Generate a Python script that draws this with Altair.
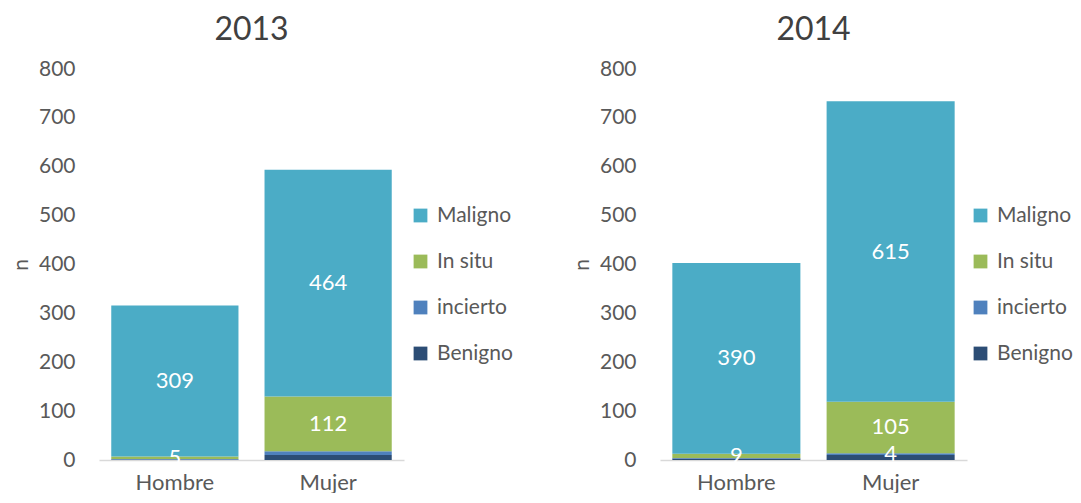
import altair as alt
import pandas as pd

sexos = ["Hombre", "Mujer"]
tipos = ["Benigno", "incierto", "In situ", "Maligno"]
colores = ["#2C4D75", "#4F81BD", "#9BBB59", "#4BACC6"]

# values per tipo (Benigno, incierto, In situ, Maligno) for Hombre / Mujer
v2013_hombre = [1, 1, 5, 309]
v2013_mujer = [10, 8, 112, 464]
v2014_hombre = [3, 1, 9, 390]
v2014_mujer = [10, 4, 105, 615]

# which values carry a data label
lab2013_hombre = [False, False, True, True]
lab2013_mujer = [False, False, True, True]
lab2014_hombre = [False, False, True, True]
lab2014_mujer = [False, True, True, True]

FONT = "Lato"
GRAY = "#595959"
legend_order = ["Maligno", "In situ", "incierto", "Benigno"]
legend_colors = [colores[tipos.index(t)] for t in legend_order]


def build_df(vh, vm, lh, lm):
    rows = []
    for sexo, vals, labs in [("Hombre", vh, lh), ("Mujer", vm, lm)]:
        for i, (t, v, l) in enumerate(zip(tipos, vals, labs)):
            rows.append({"sexo": sexo, "tipo": t, "n": v, "ord": i,
                         "lab": str(v) if l else ""})
    return pd.DataFrame(rows)


def panel(df, year, width, legend_x):
    base = alt.Chart(df).transform_stack(
        stack="n", groupby=["sexo"], as_=["y0", "y1"],
        sort=[alt.SortField("ord", order="ascending")]
    ).transform_calculate(mid="(datum.y0 + datum.y1) / 2")

    x = alt.X("sexo:N", sort=sexos, title=None,
              scale=alt.Scale(paddingInner=0.17, paddingOuter=0.08),
              axis=alt.Axis(labelAngle=0, labelFontSize=22, labelColor=GRAY,
                            labelFont=FONT, labelPadding=12, ticks=False,
                            domainColor="#D9D9D9", domainWidth=1.5))
    bars = base.mark_bar().encode(
        x=x,
        y=alt.Y("y0:Q", title="n",
                scale=alt.Scale(domain=[0, 800], nice=False),
                axis=alt.Axis(values=list(range(0, 801, 100)), grid=False,
                              ticks=False, domain=False, labelFontSize=21,
                              labelColor=GRAY, labelFont=FONT, labelPadding=24,
                              titleFontSize=21, titleColor=GRAY,
                              titleFont=FONT, titleFontWeight="normal",
                              titlePadding=7)),
        y2="y1:Q",
        color=alt.Color("tipo:N", title=None,
                        scale=alt.Scale(domain=legend_order,
                                        range=legend_colors),
                        legend=alt.Legend(orient="none", legendX=legend_x,
                                          legendY=136, symbolType="square",
                                          symbolSize=190, symbolStrokeWidth=0,
                                          labelFontSize=21, labelColor=GRAY,
                                          labelFont=FONT, labelOffset=6,
                                          rowPadding=24)),
    )
    text = base.mark_text(color="white", fontSize=22, font=FONT,
                          baseline="middle").encode(
        x=alt.X("sexo:N", sort=sexos),
        y="mid:Q",
        text="lab:N",
    )
    return alt.layer(bars, text).properties(
        width=width, height=391,
        view=alt.ViewBackground(stroke="transparent", strokeWidth=0),
        title=alt.TitleParams(str(year), fontSize=32, color="#404040",
                              font=FONT, fontWeight="normal", offset=11,
                              anchor="middle"),
    )


p1 = panel(build_df(v2013_hombre, v2013_mujer, lab2013_hombre, lab2013_mujer),
           2013, 305, 311)
p2 = panel(build_df(v2014_hombre, v2014_mujer, lab2014_hombre, lab2014_mujer),
           2014, 307, 310)

chart = alt.hconcat(p1, p2, spacing=58).resolve_legend(
    color="independent").resolve_scale(color="independent").properties(
    padding={"left": 2, "top": 6, "right": 0, "bottom": 0}
).configure_view(stroke="transparent", strokeWidth=0).configure(
    background="white")

chart.save("out.html", embed_options={"renderer": "svg", "actions": False})
